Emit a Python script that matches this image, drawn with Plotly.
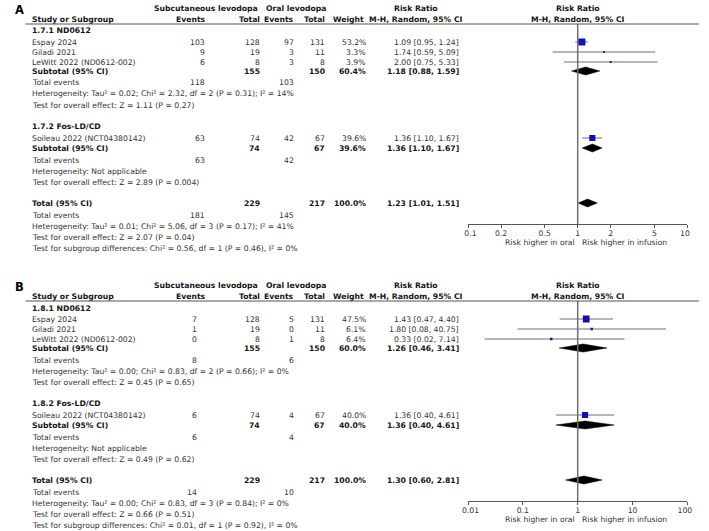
import plotly.graph_objects as go

W, H = 709, 531
FONT = "DejaVu Sans"
FS = 7.7

# ---------------- DATA ----------------
studies = ["Espay 2024", "Giladi 2021", "LeWitt 2022 (ND0612-002)", "Soileau 2022 (NCT04380142)"]
study_group = [0, 0, 0, 1]
sc_total = [128, 19, 8, 74]
or_total = [131, 11, 8, 67]
sub_sc_total = [155, 74]
sub_or_total = [150, 67]
all_sc_total = 229
all_or_total = 217

# Panel A
A_groups = ["1.7.1 ND0612", "1.7.2 Fos-LD/CD"]
A_sc_events = [103, 9, 6, 63]
A_or_events = [97, 3, 3, 42]
A_weight = [53.2, 3.3, 3.9, 39.6]
A_rr = [1.09, 1.74, 2.00, 1.36]
A_lo = [0.95, 0.59, 0.75, 1.10]
A_hi = [1.24, 5.09, 5.33, 1.67]
A_sub_weight = [60.4, 39.6]
A_sub_rr = [1.18, 1.36]
A_sub_lo = [0.88, 1.10]
A_sub_hi = [1.59, 1.67]
A_sub_sc_ev = [118, 63]
A_sub_or_ev = [103, 42]
A_sub_het = ["Heterogeneity: Tau² = 0.02; Chi² = 2.32, df = 2 (P = 0.31); I² = 14%",
             "Heterogeneity: Not applicable"]
A_sub_test = ["Test for overall effect: Z = 1.11 (P = 0.27)",
              "Test for overall effect: Z = 2.89 (P = 0.004)"]
A_tot = [1.23, 1.01, 1.51]
A_tot_ev = [181, 145]
A_tot_txt = ["Heterogeneity: Tau² = 0.01; Chi² = 5.06, df = 3 (P = 0.17); I² = 41%",
             "Test for overall effect: Z = 2.07 (P = 0.04)",
             "Test for subgroup differences: Chi² = 0.56, df = 1 (P = 0.46), I² = 0%"]
A_ticks = [0.1, 0.2, 0.5, 1, 2, 5, 10]
A_ticklabels = ["0.1", "0.2", "0.5", "1", "2", "5", "10"]

# Panel B
B_groups = ["1.8.1 ND0612", "1.8.2 Fos-LD/CD"]
B_sc_events = [7, 1, 0, 6]
B_or_events = [5, 0, 1, 4]
B_weight = [47.5, 6.1, 6.4, 40.0]
B_rr = [1.43, 1.80, 0.33, 1.36]
B_lo = [0.47, 0.08, 0.02, 0.40]
B_hi = [4.40, 40.75, 7.14, 4.61]
B_sub_weight = [60.0, 40.0]
B_sub_rr = [1.26, 1.36]
B_sub_lo = [0.46, 0.40]
B_sub_hi = [3.41, 4.61]
B_sub_sc_ev = [8, 6]
B_sub_or_ev = [6, 4]
B_sub_het = ["Heterogeneity: Tau² = 0.00; Chi² = 0.83, df = 2 (P = 0.66); I² = 0%",
             "Heterogeneity: Not applicable"]
B_sub_test = ["Test for overall effect: Z = 0.45 (P = 0.65)",
              "Test for overall effect: Z = 0.49 (P = 0.62)"]
B_tot = [1.30, 0.60, 2.81]
B_tot_ev = [14, 10]
B_tot_txt = ["Heterogeneity: Tau² = 0.00; Chi² = 0.83, df = 3 (P = 0.84); I² = 0%",
             "Test for overall effect: Z = 0.66 (P = 0.51)",
             "Test for subgroup differences: Chi² = 0.01, df = 1 (P = 0.92), I² = 0%"]
B_ticks = [0.01, 0.1, 1, 10, 100]
B_ticklabels = ["0.01", "0.1", "1", "10", "100"]

# ---------------- LAYOUT (pixel rows, relative to panel top) ----------------
ROW_HDR1, ROW_HDR2, ROW_LINE = 8, 19, 24
ROW_GROUP = [31, 126]
ROW_STUDY = [42, 52, 62, 138]
ROW_SUB = [71, 148]
ROW_SUBEV = [83, 160]
ROW_SUBHET = [94, 171]
ROW_SUBTEST = [105, 182]
ROW_TOT = 203
ROW_TOTEV = 215
ROW_TOTTXT = [226, 237, 248]
ROW_AXIS = 224
ROW_CAPTION = 242
PLOT_TOP = 24

X_STUDY = 21
X_SCEV = {"A": 201, "B": 193}
X_SCTOT = 258
X_OREV = 293
X_ORTOT = 325
X_WEIGHT = 367
X_CI = 463
X_PLOT0, X_PLOT1, X_ONE = 471, 697, 584

TXT = "#333333"
BTXT = "#151515"

fig = go.Figure()
ann = []
shapes = []


def t(x, y, s, anchor="left", bold=False, size=FS, color=None):
    ann.append(dict(x=x / W, y=1 - y / H, xref="paper", yref="paper",
                    text=("<b>%s</b>" % s) if bold else s, showarrow=False,
                    xanchor=anchor, yanchor="middle", borderpad=0,
                    font=dict(family=FONT, size=size, color=color or (BTXT if bold else TXT))))


def fmt_ci(r, l, h):
    return "%.2f [%.2f, %.2f]" % (r, l, h)


def panel(key, off, xa, ya, d):
    # headers
    t(3, off + 10, key, bold=True, size=11.5, color="#000")
    t(201, off + ROW_HDR1, "Subcutaneous levodopa", "center", True)
    t(294, off + ROW_HDR1, "Oral levodopa", "center", True)
    t(417, off + ROW_HDR1, "Risk Ratio", "center", True)
    t(X_ONE, off + ROW_HDR1, "Risk Ratio", "center", True)
    t(X_STUDY, off + ROW_HDR2, "Study or Subgroup", "left", True)
    t(202, off + ROW_HDR2, "Events", "right", True)
    t(X_SCTOT, off + ROW_HDR2, "Total", "right", True)
    t(X_OREV, off + ROW_HDR2, "Events", "right", True)
    t(X_ORTOT, off + ROW_HDR2, "Total", "right", True)
    t(X_WEIGHT - 2, off + ROW_HDR2, "Weight", "right", True)
    t(417, off + ROW_HDR2, "M-H, Random, 95% CI", "center", True)
    t(X_ONE, off + ROW_HDR2, "M-H, Random, 95% CI", "center", True)
    shapes.append(dict(type="line", xref="paper", yref="paper", x0=15 / W, x1=1,
                       y0=1 - (off + ROW_LINE) / H, y1=1 - (off + ROW_LINE) / H,
                       line=dict(color="#555", width=1)))

    # studies
    for i, s in enumerate(studies):
        y = off + ROW_STUDY[i]
        t(X_STUDY, y, s)
        t(X_SCEV[key], y, str(d["sc_ev"][i]), "right")
        t(X_SCTOT, y, str(sc_total[i]), "right")
        t(X_OREV, y, str(d["or_ev"][i]), "right")
        t(X_ORTOT, y, str(or_total[i]), "right")
        t(X_WEIGHT, y, "%.1f%%" % d["w"][i], "right")
        t(X_CI, y, fmt_ci(d["rr"][i], d["lo"][i], d["hi"][i]), "right")
        # CI line
        fig.add_trace(go.Scatter(x=[d["lo"][i], d["hi"][i]], y=[y, y], mode="lines",
                                 line=dict(color="#6e6e6e", width=1), xaxis=xa, yaxis=ya,
                                 hoverinfo="skip", showlegend=False))
        fig.add_trace(go.Scatter(x=[d["rr"][i]], y=[y], mode="markers",
                                 marker=dict(symbol="square", size=max(1.8, 0.98 * d["w"][i] ** 0.5),
                                             color="#1010b8", line=dict(width=0)),
                                 xaxis=xa, yaxis=ya, hoverinfo="skip", showlegend=False))

    def diamond(r, l, h, y):
        fig.add_trace(go.Scatter(x=[l, r, h, r, l], y=[y, y - 4, y, y + 4, y], mode="lines",
                                 fill="toself", fillcolor="#000", line=dict(color="#000", width=0.5),
                                 xaxis=xa, yaxis=ya, hoverinfo="skip", showlegend=False))

    # subgroups
    for g in range(2):
        t(X_STUDY, off + ROW_GROUP[g], d["groups"][g], bold=True)
        y = off + ROW_SUB[g]
        t(X_STUDY, y, "Subtotal (95% CI)", bold=True)
        t(X_SCTOT, y, str(sub_sc_total[g]), "right", True)
        t(X_ORTOT, y, str(sub_or_total[g]), "right", True)
        t(X_WEIGHT, y, "%.1f%%" % d["sw"][g], "right", True)
        t(X_CI, y, fmt_ci(d["srr"][g], d["slo"][g], d["shi"][g]), "right", True)
        diamond(d["srr"][g], d["slo"][g], d["shi"][g], y)
        y = off + ROW_SUBEV[g]
        t(X_STUDY, y, "Total events")
        t(X_SCEV[key], y, str(d["sev_sc"][g]), "right")
        t(X_OREV, y, str(d["sev_or"][g]), "right")
        t(X_STUDY, off + ROW_SUBHET[g], d["shet"][g])
        t(X_STUDY, off + ROW_SUBTEST[g], d["stest"][g])

    # total
    y = off + ROW_TOT
    t(X_STUDY, y, "Total (95% CI)", bold=True)
    t(X_SCTOT, y, str(all_sc_total), "right", True)
    t(X_ORTOT, y, str(all_or_total), "right", True)
    t(X_WEIGHT, y, "100.0%", "right", True)
    t(X_CI, y, fmt_ci(*d["tot"]), "right", True)
    diamond(d["tot"][0], d["tot"][1], d["tot"][2], y)
    y = off + ROW_TOTEV
    t(X_STUDY, y, "Total events")
    t(X_SCEV[key], y, str(d["tev"][0]), "right")
    t(X_OREV, y, str(d["tev"][1]), "right")
    for k, s in enumerate(d["ttxt"]):
        t(X_STUDY, off + ROW_TOTTXT[k], s)

    # line of no effect
    fig.add_trace(go.Scatter(x=[1, 1], y=[off + PLOT_TOP, off + ROW_AXIS], mode="lines",
                             line=dict(color="#707070", width=1.5), xaxis=xa, yaxis=ya,
                             hoverinfo="skip", showlegend=False))
    # captions
    t(X_ONE - 2, off + ROW_CAPTION, "Risk higher in oral", "right")
    t(X_ONE + 3, off + ROW_CAPTION, "Risk higher in infusion", "left")


dA = dict(groups=A_groups, sc_ev=A_sc_events, or_ev=A_or_events, w=A_weight, rr=A_rr, lo=A_lo, hi=A_hi,
          sw=A_sub_weight, srr=A_sub_rr, slo=A_sub_lo, shi=A_sub_hi, sev_sc=A_sub_sc_ev, sev_or=A_sub_or_ev,
          shet=A_sub_het, stest=A_sub_test, tot=A_tot, tev=A_tot_ev, ttxt=A_tot_txt)
dB = dict(groups=B_groups, sc_ev=B_sc_events, or_ev=B_or_events, w=B_weight, rr=B_rr, lo=B_lo, hi=B_hi,
          sw=B_sub_weight, srr=B_sub_rr, slo=B_sub_lo, shi=B_sub_hi, sev_sc=B_sub_sc_ev, sev_or=B_sub_or_ev,
          shet=B_sub_het, stest=B_sub_test, tot=B_tot, tev=B_tot_ev, ttxt=B_tot_txt)

OFF_B = 277
panel("A", 0, "x", "y", dA)
panel("B", OFF_B, "x2", "y2", dB)


def xax(ticks, labels, rng, anchor, overlay=None, inside=False):
    a = dict(type="log", range=rng, domain=[X_PLOT0 / W, X_PLOT1 / W], anchor=anchor,
             tickvals=ticks, showgrid=False, zeroline=False, fixedrange=True,
             showline=True, linecolor="#555", linewidth=1,
             ticks="inside" if inside else "outside", ticklen=3, tickwidth=1, tickcolor="#555")
    if inside:
        a.update(showticklabels=False, overlaying=overlay)
    else:
        lab = list(labels)
        lab[0] = "\u00a0\u00a0" + lab[0]
        lab[-1] = lab[-1] + "\u00a0\u00a0"
        a.update(ticktext=lab, ticklabelstandoff=-1,
                 tickfont=dict(family=FONT, size=FS, color=TXT))
    return a


def yax(off):
    return dict(range=[off + ROW_AXIS, off + PLOT_TOP],
                domain=[1 - (off + ROW_AXIS) / H, 1 - (off + PLOT_TOP) / H],
                visible=False, fixedrange=True, anchor="x" if off == 0 else "x2")


fig.update_layout(
    width=W, height=H, margin=dict(l=0, r=0, t=0, b=0),
    paper_bgcolor="white", plot_bgcolor="rgba(0,0,0,0)",
    xaxis=xax(A_ticks, A_ticklabels, [-1, 1], "y"),
    xaxis3=xax(A_ticks, A_ticklabels, [-1, 1], "y", overlay="x", inside=True),
    xaxis2=xax(B_ticks, B_ticklabels, [-2, 2], "y2"),
    xaxis4=xax(B_ticks, B_ticklabels, [-2, 2], "y2", overlay="x2", inside=True),
    yaxis=yax(0), yaxis2=yax(OFF_B),
    annotations=ann, shapes=shapes, showlegend=False,
)
fig.write_html("out.html")
